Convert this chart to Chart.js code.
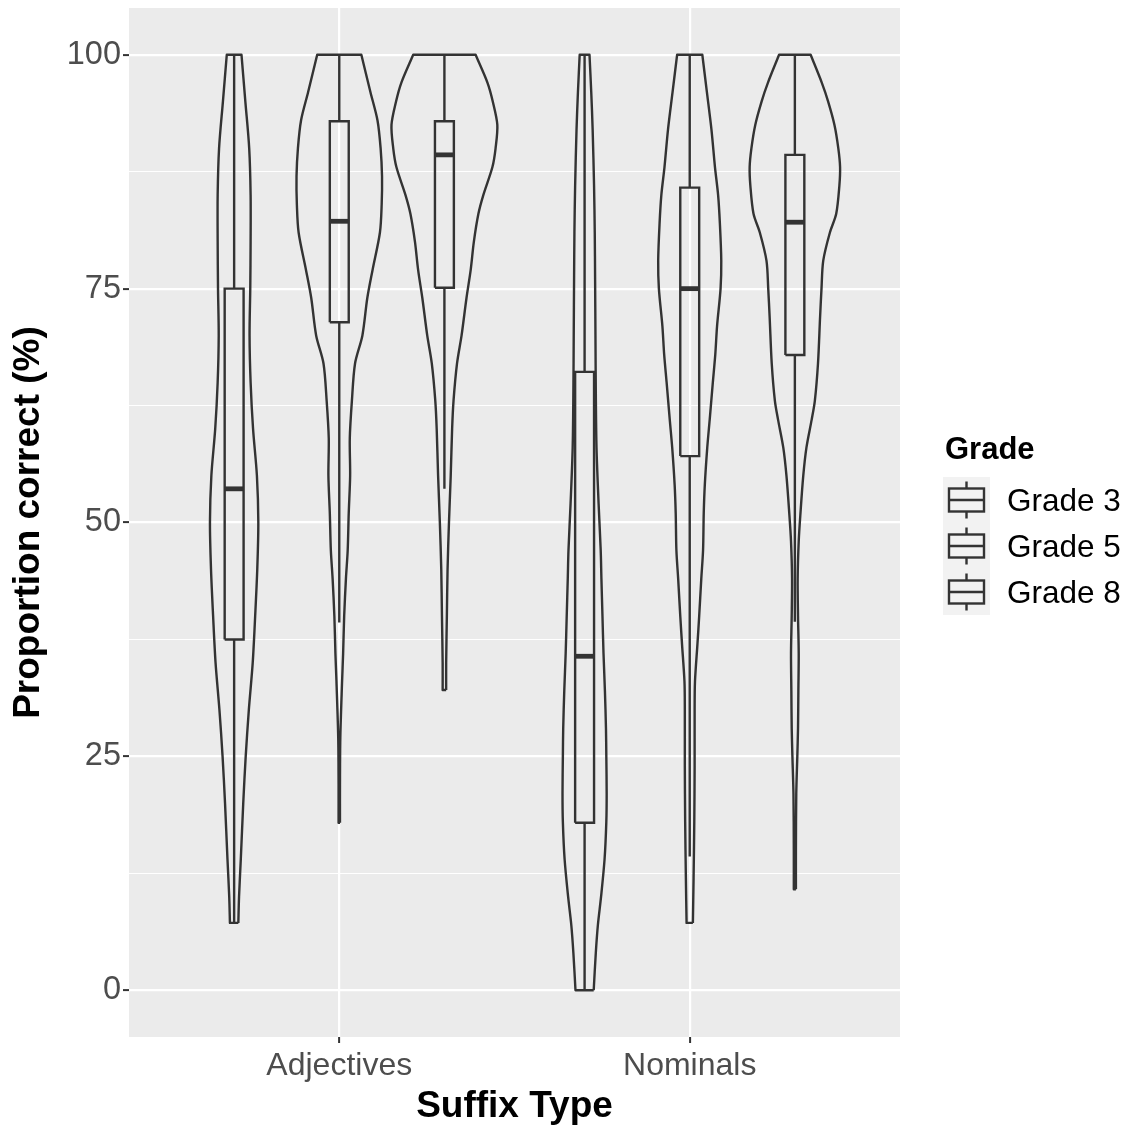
<!DOCTYPE html>
<html>
<head>
<meta charset="utf-8">
<script src="https://cdn.jsdelivr.net/npm/chart.js@4.4.1/dist/chart.umd.min.js"></script>
<style>
  html, body { margin: 0; padding: 0; background: #ffffff; }
  canvas { display: block; }
</style>
</head>
<body>
<canvas id="violinChart" width="1127" height="1125"></canvas>
<script>
const categories = ['Adjectives', 'Nominals'];
const grades = ['Grade 3', 'Grade 5', 'Grade 8'];
const gradeOffsets = [-0.3, 0, 0.3];
const yMajor = [0, 25, 50, 75, 100];
const yMinor = [12.5, 37.5, 62.5, 87.5];

// violin outlines: y level and half width (in x units)
const adjG3Y = [7.2, 10, 14, 20, 25, 30, 35, 40, 45, 50, 55, 60, 65, 70, 75, 80, 85, 90, 95, 100];
const adjG3W = [0.012, 0.014, 0.019, 0.026, 0.033, 0.042, 0.053, 0.060, 0.066, 0.069, 0.065, 0.054, 0.047, 0.044, 0.046, 0.047, 0.047, 0.043, 0.032, 0.021];

const adjG5Y = [17.9, 22, 27, 33, 36, 40, 44, 47, 51, 55, 59, 63, 67, 70, 74, 77, 81, 84, 87, 90, 93, 96, 100];
const adjG5W = [0.002, 0.002, 0.003, 0.008, 0.011, 0.014, 0.019, 0.024, 0.027, 0.031, 0.030, 0.036, 0.045, 0.066, 0.080, 0.095, 0.116, 0.121, 0.122, 0.118, 0.109, 0.089, 0.063];

const adjG8Y = [32.1, 35, 40, 45, 50, 55, 60, 63, 67, 70, 74, 77, 80, 83, 85, 88, 90, 92.5, 95, 97, 100];
const adjG8W = [0.005, 0.005, 0.007, 0.009, 0.013, 0.018, 0.022, 0.026, 0.036, 0.049, 0.063, 0.075, 0.084, 0.097, 0.111, 0.137, 0.146, 0.151, 0.138, 0.123, 0.089];

const nomG3Y = [0, 4, 7, 10, 14, 18, 21, 25, 28, 32, 36, 40, 44, 47, 52, 58, 64, 70, 76, 81, 86, 92, 96, 100];
const nomG3W = [0.026, 0.032, 0.038, 0.047, 0.057, 0.062, 0.063, 0.062, 0.061, 0.058, 0.054, 0.051, 0.048, 0.046, 0.040, 0.034, 0.032, 0.031, 0.030, 0.029, 0.027, 0.023, 0.019, 0.014];

const nomG5Y = [7.2, 12, 18, 24, 30, 33, 37, 40, 44, 47, 51, 54, 58, 61, 65, 68, 71, 75, 78, 82, 85, 88, 92, 96, 100];
const nomG5W = [0.009, 0.011, 0.013, 0.014, 0.014, 0.015, 0.022, 0.027, 0.033, 0.038, 0.040, 0.043, 0.050, 0.057, 0.066, 0.073, 0.078, 0.088, 0.090, 0.086, 0.081, 0.072, 0.062, 0.049, 0.036];

const nomG8Y = [10.8, 15, 21, 25, 28, 32, 36, 40, 44, 48, 51, 55, 58, 61, 63, 67, 72, 75, 78, 81, 83, 86, 88, 90, 92.5, 95, 97, 100];
const nomG8W = [0.003, 0.003, 0.004, 0.007, 0.009, 0.010, 0.011, 0.009, 0.008, 0.011, 0.016, 0.024, 0.033, 0.048, 0.057, 0.066, 0.072, 0.076, 0.081, 0.100, 0.118, 0.127, 0.129, 0.124, 0.113, 0.095, 0.077, 0.045];

// boxplot stats: lower whisker, q1, median, q3, upper whisker
const adjBox = [[7.1, 37.5, 53.6, 75.0, 100], [39.3, 71.4, 82.2, 92.9, 100], [53.6, 75.1, 89.3, 92.9, 100]];
const nomBox = [[0, 17.9, 35.7, 66.1, 100], [14.3, 57.1, 75.0, 85.8, 100], [39.4, 67.9, 82.1, 89.3, 100]];
const boxHalf = 0.027;

const violins = [
    [adjG3Y, adjG3W], [adjG5Y, adjG5W], [adjG8Y, adjG8W],
    [nomG3Y, nomG3W], [nomG5Y, nomG5W], [nomG8Y, nomG8W]
];

const LINE = '#333333';
const LW = 2.4;
const FONT = "'Liberation Sans', Arial, Helvetica, sans-serif";
Chart.defaults.font.family = FONT;

// repeat the end points of a side so the spline keeps sharp corners at the flat top and bottom
function withCorners(pts) {
    return [pts[0], ...pts, pts[pts.length - 1]];
}

const datasets = [];
categories.forEach((cat, ci) => {
    const boxes = ci === 0 ? adjBox : nomBox;
    grades.forEach((grade, gi) => {
        const c = ci + 1 + gradeOffsets[gi];
        const [ys, ws] = violins[ci * 3 + gi];
        const right = ys.map((y, i) => ({ x: c + ws[i], y: y }));
        const left = ys.map((y, i) => ({ x: c - ws[i], y: y })).reverse();
        datasets.push({
            label: cat + ' ' + grade,
            data: [...withCorners(right), ...withCorners(left), right[0]],
            showLine: true,
            borderColor: LINE,
            borderWidth: LW,
            borderJoinStyle: 'round',
            tension: 0.3
        });

        const [lo, q1, med, q3, hi] = boxes[gi];
        // whiskers, with a gap across the box
        datasets.push({
            data: [{ x: c, y: lo }, { x: c, y: q1 }, { x: c, y: null }, { x: c, y: q3 }, { x: c, y: hi }],
            showLine: true,
            borderColor: LINE,
            borderWidth: LW
        });
        datasets.push({
            data: [
                { x: c - boxHalf, y: q1 }, { x: c + boxHalf, y: q1 },
                { x: c + boxHalf, y: q3 }, { x: c - boxHalf, y: q3 },
                { x: c - boxHalf, y: q1 }
            ],
            showLine: true,
            borderColor: LINE,
            borderWidth: LW,
            borderJoinStyle: 'miter'
        });
        datasets.push({
            data: [{ x: c - boxHalf, y: med }, { x: c + boxHalf, y: med }],
            showLine: true,
            borderColor: LINE,
            borderWidth: 4.8,
            borderCapStyle: 'butt'
        });
    });
});

const panelBg = {
    id: 'panelBg',
    beforeDraw(chart) {
        const { ctx, chartArea: a } = chart;
        ctx.save();
        ctx.fillStyle = '#EBEBEB';
        ctx.fillRect(a.left, a.top, a.width, a.height);
        ctx.restore();
    }
};

// ggplot style legend with boxplot keys
const gradeLegend = {
    id: 'gradeLegend',
    afterDraw(chart) {
        const ctx = chart.ctx;
        ctx.save();
        ctx.fillStyle = '#000000';
        ctx.textBaseline = 'alphabetic';
        ctx.textAlign = 'left';
        ctx.font = 'bold 31px ' + FONT;
        ctx.fillText('Grade', 945, 459);
        grades.forEach((g, i) => {
            const top = 477 + i * 46;
            const cy = top + 23;
            const cx = 966.5;
            ctx.fillStyle = '#F2F2F2';
            ctx.fillRect(943, top, 47, 46);
            ctx.strokeStyle = LINE;
            ctx.lineWidth = LW;
            ctx.strokeRect(cx - 17.5, cy - 11.5, 35, 23);
            ctx.beginPath();
            ctx.moveTo(cx - 17.5, cy);
            ctx.lineTo(cx + 17.5, cy);
            ctx.moveTo(cx, top + 4.6);
            ctx.lineTo(cx, cy - 11.5);
            ctx.moveTo(cx, cy + 11.5);
            ctx.lineTo(cx, top + 46 - 4.6);
            ctx.stroke();
            ctx.fillStyle = '#000000';
            ctx.font = '31.5px ' + FONT;
            ctx.fillText(g, 1007, cy + 11);
        });
        ctx.restore();
    }
};

const isMajor = ctx => ctx.tick && yMajor.includes(ctx.tick.value);

new Chart(document.getElementById('violinChart').getContext('2d'), {
    type: 'scatter',
    data: { datasets: datasets },
    options: {
        responsive: false,
        animation: false,
        events: [],
        layout: { padding: { left: 0, top: 8, right: 227, bottom: 0 } },
        elements: { point: { radius: 0, hoverRadius: 0 } },
        plugins: {
            legend: { display: false },
            tooltip: { enabled: false }
        },
        scales: {
            x: {
                type: 'linear',
                min: 0.4,
                max: 2.6,
                afterBuildTicks: s => { s.ticks = categories.map((c, i) => ({ value: i + 1 })); },
                afterFit: s => { s.height = 88; s.paddingLeft = 0; s.paddingRight = 0; },
                ticks: {
                    callback: v => categories[Math.round(v) - 1],
                    color: '#4D4D4D',
                    font: { size: 32 },
                    padding: 4,
                    autoSkip: false,
                    maxRotation: 0
                },
                grid: { color: '#FFFFFF', lineWidth: 2.2, tickColor: LINE, tickLength: 6, tickWidth: 2 },
                border: { display: false },
                title: {
                    display: true,
                    text: 'Suffix Type',
                    color: '#000000',
                    font: { size: 37, weight: 'bold', lineHeight: 1 },
                    padding: { top: 0, bottom: 0 }
                }
            },
            y: {
                min: -5,
                max: 105,
                afterBuildTicks: s => {
                    s.ticks = [...yMajor, ...yMinor].sort((a, b) => a - b).map(v => ({ value: v }));
                },
                afterFit: s => { s.width = 129; s.paddingTop = 0; s.paddingBottom = 0; },
                ticks: {
                    callback: v => yMajor.includes(v) ? String(v) : '',
                    color: '#4D4D4D',
                    font: { size: 32.5 },
                    padding: 2,
                    autoSkip: false
                },
                grid: {
                    color: '#FFFFFF',
                    lineWidth: ctx => isMajor(ctx) ? 2.2 : 1.1,
                    tickColor: ctx => isMajor(ctx) ? LINE : 'rgba(0,0,0,0)',
                    tickLength: 6,
                    tickWidth: 2
                },
                border: { display: false },
                title: {
                    display: true,
                    text: 'Proportion correct (%)',
                    color: '#000000',
                    font: { size: 37, weight: 'bold', lineHeight: 1 },
                    padding: { top: 10, bottom: 0 }
                }
            }
        }
    },
    plugins: [panelBg, gradeLegend]
});
</script>
</body>
</html>
